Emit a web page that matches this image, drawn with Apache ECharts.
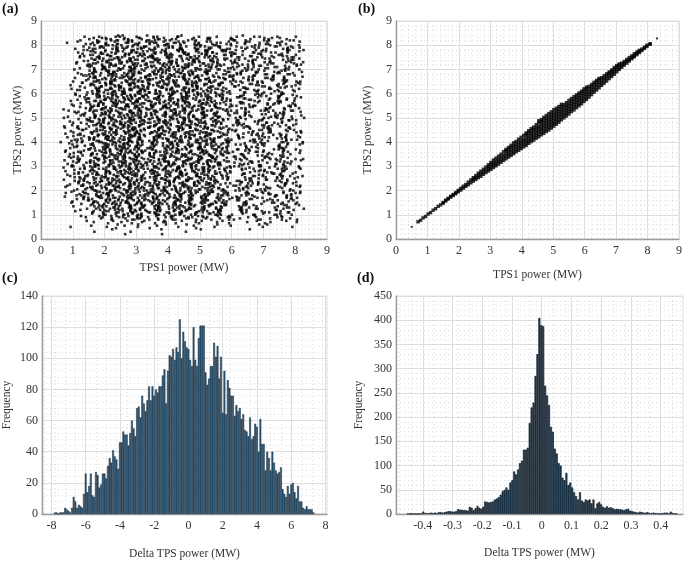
<!DOCTYPE html>
<html><head><meta charset="utf-8">
<style>html,body{margin:0;padding:0;background:#fff}#c{width:685px;height:561px}</style>
<script src="https://cdn.jsdelivr.net/npm/echarts@6/dist/echarts.min.js"></script></head>
<body><div id="c"></div>
<script>
// Panel (a): hand-read sample of the cloud. Rows run from TPS2 = 8.4 down in 0.1 MW steps.
// Each character is a 0.1 MW TPS1 cell starting at 0.4; a digit marks a point and gives its hundredths.
const cloudTopTps2 = 8.4, cloudStepTps2 = 0.1, cloudStartTps1 = 0.4, cloudStepTps1 = 0.1;
const cloudRows = [
"....................37.......4..........2..................5...................",
"............6..24.....3...81...5..7.........1...52.....8..........3.7..2.........",
"........4....7....182..56....419...26.....3.7...........61..4.....27......35.....",
"....2.......38..5.....74..9...263....84..1...6.....35....7..2...8.....41.........",
"............8...426..3...15.....7.84...9....613...52...8.......47...1..3.....2...",
"...........2..57....169....43..8....25.71...4...86..3......19..25........7.3.4...",
".........46.....3..81...52....74..1...936....2.75...841..3.....6.9.......52...6..",
".......7.....19...26....483....517.2....84...6..391....52.....71....48...6.......",
"...........53...81....47...26.9....153...84....72....619...4.....3....85....2....",
"........2....64....935...1...782...641....93...57..2.....84.....16...3....95.....",
"............71...53.8...264....913....7...582....4.6.9...13...75........2.84.....",
".......3.....9..62...4.17.....538...216....749....35....81....6...49.....27...5..",
"..........84...2.615....93..72....468....315....78..26.....4.19....3........58...",
"...........3...715.....824...69....137..452.....86.1....47...29......53...1......",
"......5.....8..24...91..63.7.....528..14.....739...62...8....14.5.......79...3...",
"............63...172....548....19.3...62..48...51.....73..9....62....48.......1..",
"........7..25....946...183....274...59...168....3....42..79.......51.....63......",
"...........481....37..256...81....39..246...71....58...32....46.....91..5.....3..",
"..........9....35.12...746...832...51...946....72....81.5....37.....42..6........",
"......1.....64...83...92..571....46.38....257...914....6.38.....25......71..46...",
"...........72...583....614...92...731....846...52..93...1....74.......8.3....5...",
"........3.....91...462...75.38...12...64...793...51.....82.......64...7..39......",
".....6.......52..83...194..627.....583...16..24...97..3.....51.....84........2...",
"............174...93.52...846...13...79..258...16....4.3.......72....59....8.....",
"......8.....36...125.84...73...95...26..18...437...29..5........16..4..73.......",
"........2.....59..47...136.82....14.7...396...58...14.....72.....39...61....5....",
"..........61....385...247.91...62...85..3719....46...25....83.......1.7..4.9.....",
".....4......837...156...294..73....18..265...91..47...36.......28.....53...7.....",
"........5.....26..941...73.85...14..279..36...815..24.....97.......3.68....2.....",
"......3.....791...54..82.63...71..528...49..36...17.....25....84.........96.1....",
"..........16...428..73...59..18...264...73.5..92...64......13.....78....5....2...",
"....7......385...126...94.73...51...82..64.79...35....18.6.......24..1....73.....",
".......2.9.....147..63..825..16...93.74..28...51..63....97..4........8.25........",
"........56...28..39...14.76..28...31.57...49...62.81...4....16.......75.3....9...",
"...2.......49...163...572.84...17...93..625...84..17.....39.......26..3.1.....8..",
"..........73..58..14...962.73...84.16...927..53...81.4...61.....75.......92.3....",
"......1.6.....27.49..35.18...64..279...351...864...27....53.......91.4.8.........",
".....8......539...61.724..93...71..58...264.93...71.....58.2.....63.7....1.4.....",
"...5...4.......716..28.395...71..429...63.81...75...24.....8.6....13.....92......",
"........93....64..17...582.36...914.7..25...83...61...9.24......75.8.....1.6.....",
"......2....71....583..64.92...715...384..62...971...4.8......35....62.......49...",
".......64....927..15...836.14...729..53...864...12...75..9....38.....1.6.2.......",
"....3......18...536...294.71...583...629.47...15...83.....26......47....91...5...",
"......75...26...914..738..52...64..91..73...85..264...19......73.5.......28.6....",
"..2....38.....41..629..57.38...16...42.95...73..186...42......95.1.....73.....4..",
".....9.....61...735..824..69...13...758...26...94..17....38.....26.....1.5...4...",
"......42.......581..963..72...54...816...39..725...81.4.....6.37......92.1.......",
"..........93...627..158..46...92...37..148...66...529....71..4.......38.5...2....",
"...6...75......148...369..271...358..46...92..713...58..4......629......17.......",
".....1.....826...94.713..58...26...19...43.75..28...61....94.......37...2.5......",
"....8.36.......915..274..83...64...179..25...83..614....72.9......51...83........",
".......52....739...618..52..47...13...96..82.54...71.....36.8.......29.4....1.5..",
"......19...46...28..537..19...26..841...73..95..268...41.....73.5......26.8......",
"....4.......83...71...692.54...18...372..695...14..73.....69.2.......81.4.5......",
".....62....591...48..376..29...51..48..37..26...915....48.3.....72...6..9....1...",
"........37....26..91...548..36...172..94...58..36...17.....24.9.......58.3...7...",
"...7.......48...53..926..17...48...31.59...62..47.8...15.......36.2....94........",
"......58....26..37...149.52...86...31..749...25...83..6....71.......94.5...2.....",
".....2...96....14..738...526...94..17..35...82..69...14.......73.8.....61.4...3..",
"........47...38..25...916..47...382...16..95...374...28......61.5.....39...8.....",
"......6.15....92..48...73.15...92..648...71..39...52.....64..73......8.1.5.......",
".......8...37....516..49.28...37...15..64...29..837...15.....26.4.......82.3.....",
"....3...72...49...615..83.7...216...49..58..31...72.....64..9.1.......5.7...46...",
"..........58...16..39...27.45...816...39..24...75..81.....36.2.....41..9.........",
"......4.....93...725..81.6..43...972..58...16...43..97...25....81.6.......34.....",
"...8.....61....584...29.37...615..48...29..37...61...58.....42...9.6....3...15...",
".......27....49..36...158..247...39...16..58...24...739....16.5......82..47......",
".........39...62..84...71.59...36...284...71..59...36...284.....17.......39.6....",
"..........81....47..36...29.58...14...73..62...95...14...73........29.5....4.....",
".....6......59...28..174..36...295...81..47...36...295.....83.......74..1...6....",
"...........7..36...49...15.87...32...649...15...83...72....64.9.........53...2...",
"..............15..82...73..61...94...58..26...73...19.....82.5.......6...41......",
"........4.....69...37...15.28...46...93..71...52...84.....637........92....5.....",
"............2..5...84...61...937...52..64...819...37.......26.....48.....71......",
"...............73....92...54....618...37...25.....946...1.....83.....52...9......",
"..........1....4....68....35.7.....29.....46...13.....85.....2.7......49.........",
"..................2.....74....1.9....53.....8....6.....27.......41.....8....6....",
"............6........3.....8......52........7......4........9.......2.......5....",
"....................1.....6........3.....8.........5............7..2.............",
".....3..........7.........5............2..........6..............8.........1......",
"..................4..............9............3..............7....................",
"............8...........2................6.......................................",
"......................5...........1..............................................",
];
// Second hand-read layer for the same cloud, rows from TPS2 = 8.35 down in 0.1 MW steps.
const cloudTop2Tps2 = 8.35;
const cloudRows2 = [
".........7....3....58.....1....46.....92.....7.....3.....6.....18.....4.....2....",
"...........2....69....14...7....83...25....6....41.....73....9.....6.....3.......",
".......5.....83....2...47....19...6....38...5...24.....1....76.....2...8.....4...",
"..........16....3..92....74...2....51..8....36...9....47....2.....85.....1.......",
".........4....72...6...38...51..9...24...7....16...83....5....4......62...7......",
"......8.....31....57..2...46..19...3...82...75...1....64....3.....9.....25.......",
"...........64...2...38..7...15....92...46...8..73....21....5.....48......6...3...",
".........1....85...4..67...23..9...58....14...69...3....72......41.....8.........",
"........36....2..71...4...59..32...8...61...47...25....9.....83.....6...14.......",
"...........9..46...13..82...7..56...2...39..84....1..76.....2.....59.....7...3...",
".........58....37...6..21..94...8...53..6...27...41....8.....36.....2....9.......",
".......1....42...9..73...65..2...48..17...6...93...5....28....7.....41.....6.....",
"..........69...3..85..2...14..76..3...92..5...18...46.....3.....72......8...5....",
"........2...7..51...48..36..9...27..4...83..61...5....97....2.....64.....1.......",
"...........38...64..1..72...5..89..34...6..27...51...8.....46.....3....79........",
".......6....1.9..37...25..84...6..13...72..5...94..2.....68....7......41...3.....",
".........43...6..28..59..1...74..6..83...29..47...1....56.....93.....2.....8.....",
"......7.....52..1...86..3..49...27..5...91..36..8...24.....7......63....5........",
"..........2..73...94..6..18..53...2..67..4...82..19.....5....36.....8...14.......",
"........91....5.28...4..63...7..42...95..8..31...6..72.....4....18......6...9....",
".....3.....67...4..15..82..9...36..7..21...58..4...93.....2....75.....3.....1....",
".........8...24..9..61...37..5...84..2..96...1..73...4.....62......9...47........",
".......42....7..31..6..95..28...1..57...4..83...26..9.....7....14.....5....3.....",
"..........6...18..5..73...4..92..6...31..75..2...48...6....93.....2....8.........",
"......9...3..52...7..4..16..83...5..92...7..24..6...13.....8...47......6...2.....",
".........7...64..1..29..5...37..81..4...63..9...52...1...74.....3.....9......8...",
".......5..1....83..6..47..2.9...64..3..18...7..25...9..6.....41....7.....3.......",
"..........42..9...6..31..75...8..26..9...43..7..18...5....62....3.....84.........",
".....7.....5..16...8..94...2..67...3..51..8...49..6...27.....5.....3.1.....9.....",
"........3..82...4..7..56..19...3..74...2..68..5...91...4.....76.....2.....5......",
"...1.......6..93..2..75...8..41..6...93..2...57..8...36.....4.....91....7........",
"......68....4...17..3..92..5...86..2..47...1..93...5..8.....24.....6....3....7...",
".........2..7..53...8..16..4..79...3..25..6...81..4...9.....3....57.....1........",
"....5.......91...6..42..8..37...5..16..8...92..4...73.....6...2.....48....9......",
".......8..4...26..7..5..13...94..2...68..3..71...5...29.....4....8.....6...1.....",
".....1.....73..5...89..4...26..7..53...1..84...6..29.....7.....34......9.........",
"..........4..68..2..91..5..73...4..28...6..35..9...17.....48....2.....6.....3....",
"...3...6...1..74...5..28..9...46..1...73..9...25..8...4.....61.....7...2.........",
".......9..2..5...83..1..67..4...92..5..38...6..14...7..3.....8.....52.....4......",
".....4......86..3..7..19..25...8..63...4..97..2...56.....1....8.....3....6...7...",
"...7....3...1..42..9..6..58...3..71..4...26..9..85...3.....7....29.....1.........",
"......2..5...9..61...3..84..7...25..9...16..3..74...8.....2.....56.....4....9....",
"........7..46...3..18..5..92...6..34..7...81..5..26...9...4.....7.....38.........",
".....6...1...52..8..4..73..9..16...8..25..4...97..3...61.....8.....4.....2.......",
"....9.......3..74..6..21..5...83..4..19...6..72..5...38.....1....64......7....3..",
".......4.8..6...2..57..9..13...7..46...2..85..1..63...9.....4.....2...8..........",
".....2.....79...3..6..14..8..52...9..37..6...41..8...25.....6...3......71........",
"...8.....5...14..7..93..2..68...1..5..74...3..98...2..6.....37....1.....4....6...",
"......3.6...2..85...1..47..9..26...7..43..5...19..8...62.....3.....8.........4..",
".........1.7...4..96..3..58...2..64..1..87...3..95...4.....7....26.....3.........",
".....5......83..6..2..49..17...5..82..6...34..7..91...5.....2.....48.....6.......",
"...4...9...6..1..75...3..82...6..19...4..73..8..52...6.....1.....7....3......8...",
".......2..35...7..8..61..4..93...5..27..8...16..4..73...9.....5....2.....6.......",
".....8...4...91..3..56...7..24...8..13..6..49...7..85......3....61......2........",
"...1.....7..2...6..38..9..14...75..2..96...4..83..1...57.....6.....9....4....3...",
"......5....83...4..7..29..6...81..3..57..4...69..2...8.....3.....14.....7........",
".......9.2...6..57..1..34...8..46...9..72...5..18...3..6.....8.....25.......1....",
"....3.....8..41...9..6..75..2...83..5...16..9..42...7......3....69.....1.........",
"......6.1...5..73..8..24...9..35...7..61..4..82...5...9.....2.....7...3.....8....",
"...2.....4..7...9..16..5..38...6..92..1..74...3..58...6.....4.....81.....5.......",
".......8..6..25..3..71...4..96...2..48..7...35..1..6......92....4......7....3....",
".....1...3...8..64...9..25..7...41..6...83..2..97...5.....6.....3.1.....8........",
"...7.......52...1..83..6..49...2..75..3..16...8..24...7.....5.....9....2.....4...",
".......4.9..3...6..2..18..7...63..9..25...4..71..8...3.....6.....14.......5......",
".....6...2...75..8..4..39..1..52...6..8..47..3...91...2.....8....5......3....6...",
"........1.8..4..62...7..35..9...16..4..83..2...69..7..4......3.....72.....8......",
"...5.....6...93..2..8..14...7..25...6..91..3..48...7.....5.....2.....6...3.......",
".......3.4..1...87..5..26...9..43..7...12..6..85...9...3.....74.....1.....6......",
".....9......62..5..3..71..8...46...1..39..5...72..8...4.....6.....2......9.......",
"........7...3..9..48...6..15..9...27..4...63..8..51...2.....7....4.....6....1....",
"......2.....8..16...5..93...4..78...2..56...1..49...6.....3....8......5..........",
"..........5..3...7..26..4..1...89...3..6..72...4...15.....8....62.......3.....7..",
"......8.....6...42...7..19...3..64...8..25...7..3..96......1.....5.....4.........",
"............1..7...5...38..6...92...4..71...6...83..2......5.....9.....3.........",
"........6.....4...18...5..27....3...96...1...48....7...2.......3.......6.........",
"..............9...3...6...41....8....2...75....9....3.....6.........1.....4......",
"..........4.......7....2....5.....8.....3.....6......1.........9.........2.......",
".................1......6......9......4......7.........2..........5..............",
"...........8..........3.........5...........1..........7.........................",
"...................6..........2.............8....................................",
];
// Panel (b): hand-read sample of the diagonal band, [TPS1 value, [TPS2 values at that TPS1]]
const bandRows = [
[0.5,[0.5]],[0.7,[0.71]],[0.78,[0.77]],[0.86,[0.87]],[0.94,[0.93]],[1.02,[1.03]],[1.1,[1.09]],[1.18,[1.19]],[1.26,[1.25]],[1.34,[1.35]],[1.42,[1.41]],[1.5,[1.51,1.48]],[1.58,[1.57,1.6]],[1.66,[1.65,1.68]],[1.74,[1.73,1.76]],[1.82,[1.8,1.84]],[1.9,[1.87,1.92]],[1.98,[1.95,2.01]],
[2.06,[2.02,2.09]],[2.14,[2.1,2.18]],[2.22,[2.17,2.25]],[2.3,[2.24,2.35]],[2.38,[2.32,2.44]],[2.46,[2.39,2.53,2.47]],[2.54,[2.46,2.54,2.62]],[2.62,[2.53,2.63,2.72]],[2.7,[2.59,2.69,2.8]],[2.78,[2.67,2.78,2.88]],[2.86,[2.74,2.85,2.97]],
[2.94,[2.81,2.9,2.99,3.07]],[3.02,[2.88,2.98,3.08,3.16]],[3.1,[2.95,3.05,3.15,3.26]],[3.18,[3.02,3.12,3.22,3.34]],[3.26,[3.09,3.2,3.3,3.42]],[3.34,[3.17,3.27,3.38,3.5]],[3.42,[3.24,3.35,3.46,3.6]],[3.5,[3.31,3.42,3.53,3.65,3.7]],[3.58,[3.38,3.49,3.6,3.71,3.78]],[3.66,[3.45,3.56,3.67,3.78,3.87]],[3.74,[3.52,3.63,3.74,3.85,3.97]],[3.82,[3.6,3.7,3.81,3.92,4.03]],[3.9,[3.66,3.77,3.88,3.99,4.12]],[3.98,[3.73,3.84,3.95,4.06,4.2]],[4.06,[3.8,3.91,4.02,4.13,4.28]],[4.14,[3.86,3.97,4.08,4.2,4.32,4.38]],
[4.22,[3.95,4.05,4.15,4.27,4.38,4.47]],[4.3,[4.02,4.13,4.24,4.35,4.46,4.56]],[4.38,[4.08,4.19,4.3,4.41,4.52,4.62]],[4.46,[4.16,4.27,4.38,4.49,4.6,4.72]],[4.54,[4.22,4.33,4.44,4.55,4.66,4.8,4.88]],[4.62,[4.3,4.41,4.52,4.63,4.74,4.85,4.93]],[4.7,[4.36,4.47,4.58,4.69,4.8,4.91,5.02]],[4.78,[4.44,4.55,4.66,4.77,4.88,4.99,5.1]],[4.86,[4.5,4.61,4.72,4.83,4.94,5.05,5.18]],[4.94,[4.58,4.69,4.8,4.91,5.02,5.13,5.25]],[5.02,[4.66,4.77,4.88,4.99,5.1,5.21,5.34]],[5.1,[4.74,4.85,4.96,5.07,5.18,5.29,5.4]],[5.18,[4.82,4.93,5.04,5.15,5.26,5.37,5.47]],[5.26,[4.92,5.03,5.14,5.25,5.36,5.47,5.56]],[5.34,[5.0,5.11,5.22,5.33,5.44,5.55]],[5.42,[5.08,5.19,5.3,5.41,5.52,5.63]],[5.5,[5.16,5.27,5.38,5.49,5.6,5.72]],[5.58,[5.26,5.37,5.48,5.59,5.7,5.8]],[5.66,[5.33,5.44,5.55,5.66,5.77,5.88]],[5.74,[5.42,5.53,5.64,5.75,5.86,5.95]],[5.82,[5.5,5.61,5.72,5.83,5.94,6.03]],[5.9,[5.58,5.69,5.8,5.91,6.02,6.1]],[5.98,[5.68,5.79,5.9,6.01,6.12,6.2]],[6.06,[5.76,5.87,5.98,6.09,6.2,6.27]],[6.14,[5.86,5.97,6.08,6.19,6.3]],
[6.22,[5.96,6.07,6.18,6.29,6.38]],[6.3,[6.06,6.17,6.28,6.39,6.47]],[6.38,[6.15,6.26,6.37,6.48,6.55]],[6.46,[6.24,6.35,6.46,6.57,6.63]],[6.54,[6.34,6.45,6.56,6.66]],[6.62,[6.43,6.54,6.65,6.74]],[6.7,[6.52,6.63,6.74,6.82]],[6.78,[6.62,6.73,6.84,6.9]],[6.86,[6.71,6.81,6.91,6.98]],[6.94,[6.8,6.9,7.0,7.08]],[7.02,[6.9,7.0,7.1,7.16]],[7.1,[7.0,7.08,7.18,7.23]],[7.18,[7.09,7.18,7.26]],[7.26,[7.18,7.26,7.33]],[7.34,[7.26,7.34,7.41]],[7.42,[7.35,7.42,7.49]],[7.5,[7.44,7.5,7.56]],[7.58,[7.52,7.58,7.65]],[7.66,[7.61,7.66,7.72]],[7.74,[7.7,7.75,7.79]],[7.82,[7.78,7.84]],[7.9,[7.87,7.92]],[7.98,[7.95,8.0]],[8.08,[8.04,8.06]],[8.3,[8.28]]
];
// Panel (c): histogram counts, one bin per 0.1 MW starting at -7.8
const deltaCStart = -7.8, deltaCBin = 0.1;
const freqC = [1,1,0,1,1,1,4,3,2,1,4,11,8,4,6,5,4,13,26,14,18,26,12,11,27,25,17,19,26,26,23,31,36,33,41,37,35,29,46,46,53,51,51,44,52,60,55,50,68,69,62,76,71,66,73,82,73,82,76,80,78,82,82,89,93,71,92,102,101,106,99,107,104,125,100,117,111,107,106,99,95,120,99,95,113,121,121,121,91,83,87,95,95,110,101,108,87,101,65,92,64,86,81,76,76,63,70,66,68,61,64,54,53,50,62,48,50,58,56,40,61,45,45,28,40,36,28,40,33,28,26,27,30,16,13,11,18,13,19,20,14,10,18,8,8,4,3,5,3,3,3,1];
// Panel (d): histogram counts, one bin per 0.0065 MW starting at -0.45
const deltaDStart = -0.45, deltaDBin = 0.0065;
const freqD = [1,1,0,1,1,0,1,1,5,2,2,2,3,2,3,2,4,4,3,4,5,6,6,5,5,6,10,9,9,8,8,7,15,13,8,12,17,13,11,15,26,25,24,25,26,30,32,35,40,47,50,55,50,65,70,88,82,92,105,110,133,133,137,188,220,230,285,330,405,390,388,265,245,225,180,170,135,125,105,100,75,70,85,60,65,55,45,37,30,45,28,25,30,28,30,22,30,12,22,25,20,15,13,16,13,14,12,10,11,10,10,9,8,10,11,7,6,5,4,3,5,4,3,3,4,2,2,3,2,2,1,1,2,3,3,1,5,2,1,1];
const ticksC = [-8,-6,-4,-2,0,2,4,6,8];
const ticksD = [-0.4,-0.3,-0.2,-0.1,0,0.1,0.2,0.3,0.4];
const panelLabels = ['(a)','(b)','(c)','(d)'];
const nameX1 = 'TPS1 power (MW)', nameY1 = 'TPS2 power (MW)', nameX2 = 'Delta TPS power (MW)', nameY2 = 'Frequency';

const decodeCloud = (rows, top) => rows.flatMap((row, r) => {
  const y = +(top - r * cloudStepTps2).toFixed(2), pts = [];
  for (let c = 0; c < row.length; c++) if (row[c] !== '.') pts.push([+(cloudStartTps1 + c * cloudStepTps1 + row[c] / 100).toFixed(2), y]);
  return pts;
});
const flatA = decodeCloud(cloudRows, cloudTopTps2).concat(decodeCloud(cloudRows2, cloudTop2Tps2));
const flatB = bandRows.flatMap(([x, ys]) => ys.map(y => [x, y]));
const histC = freqC.map((v, i) => [+(deltaCStart + i * deltaCBin).toFixed(3), v]);
const histD = freqD.map((v, i) => [+(deltaDStart + i * deltaDBin).toFixed(4), v]);

const F = '"Liberation Serif", serif', TXT = '#333';
const axis = (gridIndex, min, max, interval, name, gap, isY, custom, fmt) => ({
  type: 'value', gridIndex, min, max, interval, name,
  nameLocation: 'middle', nameGap: gap,
  nameTextStyle: { fontFamily: F, fontSize: 11.5, color: TXT },
  axisLine: { show: true, onZero: false, lineStyle: { color: '#9a9a9a', width: 1.4 } },
  axisTick: { show: false, customValues: custom },
  minorTick: { show: false, splitNumber: 5 },
  axisLabel: { fontFamily: F, fontSize: 12, color: TXT, margin: isY ? 4 : 6, customValues: custom, formatter: fmt },
  splitLine: { show: true, lineStyle: { color: '#dedede', width: 1 } },
  minorSplitLine: { show: true, lineStyle: { color: '#dcdcdc', width: 1, type: [1, 3] } }
});
const oneDec = v => Math.abs(v) < 1e-9 ? '0' : (+v).toFixed(1);
const grids = [
  { left: 41, top: 21, width: 286, height: 218 },
  { left: 396, top: 21, width: 286, height: 218 },
  { left: 41, top: 296, width: 286, height: 218 },
  { left: 396, top: 296, width: 287, height: 218 }
].map(g => ({ ...g, show: true, borderColor: '#dedede', borderWidth: 1, backgroundColor: '#fff' }));
const titlePos = [[2, 2], [358, 2], [2, 271], [357, 271]];
const dot = { color: '#000' };

const chart = echarts.init(document.getElementById('c'), null, { renderer: 'canvas' });
chart.setOption({
  animation: false,
  backgroundColor: '#fff',
  title: panelLabels.map((text, i) => ({ text, left: titlePos[i][0], top: titlePos[i][1], padding: 0,
    textStyle: { fontFamily: F, fontSize: 14, fontWeight: 'bold', color: '#111' } })),
  grid: grids,
  xAxis: [
    axis(0, 0, 9, 1, nameX1, 23, false),
    axis(1, 0, 9, 1, nameX1, 30, false),
    axis(2, -8.55, 8.09, undefined, nameX2, 34, false, ticksC),
    axis(3, -0.49, 0.475, undefined, nameX2, 33, false, ticksD, oneDec)
  ],
  yAxis: [
    axis(0, 0, 9, 1, nameY1, 17, true),
    axis(1, 0, 9, 1, nameY1, 22, true),
    axis(2, 0, 140, 20, nameY2, 29, true),
    axis(3, 0, 450, 50, nameY2, 31, true)
  ],
  series: [
    { type: 'scatter', xAxisIndex: 0, yAxisIndex: 0, data: flatA, symbol: 'rect', symbolSize: 2.6, itemStyle: dot },
    { type: 'scatter', xAxisIndex: 1, yAxisIndex: 1, data: flatB, symbol: 'rect', symbolSize: v => (v[0] < 0.6 || v[0] > 8.2) ? 2 : 3.4, itemStyle: dot },
    { type: 'bar', xAxisIndex: 2, yAxisIndex: 2, data: histC, barWidth: 1.8, itemStyle: { color: '#2f6288', borderColor: '#12222f', borderWidth: 0.5 } },
    { type: 'bar', xAxisIndex: 3, yAxisIndex: 3, data: histD, barWidth: 2, itemStyle: { color: '#23455f', borderColor: '#0e1a24', borderWidth: 0.7 } }
  ]
});
</script></body></html>
